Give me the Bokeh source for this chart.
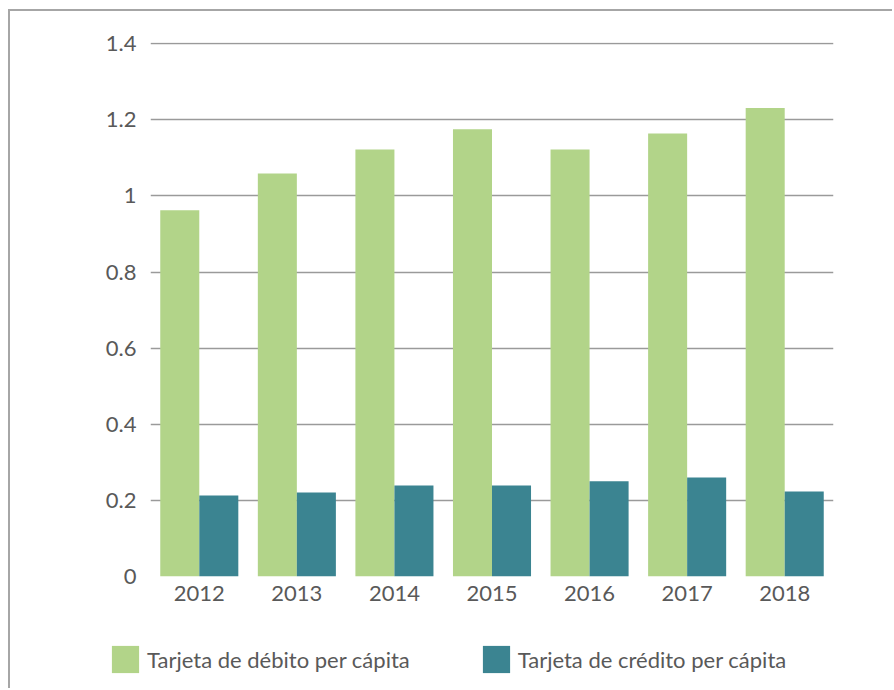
from bokeh.plotting import figure
from bokeh.models import ColumnDataSource, FactorRange, Range1d, Legend, LegendItem, FixedTicker
from bokeh.transform import dodge
from bokeh.embed import file_html
from bokeh.resources import INLINE

years = ["2012", "2013", "2014", "2015", "2016", "2017", "2018"]
debito = [0.962, 1.059, 1.122, 1.175, 1.122, 1.164, 1.231]
credito = [0.213, 0.221, 0.239, 0.239, 0.250, 0.260, 0.223]
y_ticks = [0, 0.2, 0.4, 0.6, 0.8, 1.0, 1.2, 1.4]
y_labels = {0: "0", 0.2: "0.2", 0.4: "0.4", 0.6: "0.6", 0.8: "0.8", 1.0: "1", 1.2: "1.2", 1.4: "1.4"}
legend_labels = ["Tarjeta de débito per cápita", "Tarjeta de crédito per cápita"]

GREEN = "#b2d489"
TEAL = "#3b8491"
TEXT = "#595959"
BORDER = "2px solid #a6a6a6"
FONT = "Lato"
FS = "22px"

src = ColumnDataSource(dict(years=years, debito=debito, credito=credito))

p = figure(width=884, height=609, x_range=FactorRange(*years), y_range=Range1d(0, 1.403),
           output_backend="svg", toolbar_location=None,
           min_border_left=140, min_border_right=61, min_border_top=31, min_border_bottom=44,
           styles={"margin-left": "8px", "margin-top": "9px",
                   "border-left": BORDER, "border-top": BORDER})
p.outline_line_color = None

p.vbar(x=dodge("years", -0.2, range=p.x_range), top="debito", width=0.4, source=src,
       fill_color=GREEN, line_color=None)
p.vbar(x=dodge("years", 0.2, range=p.x_range), top="credito", width=0.4, source=src,
       fill_color=TEAL, line_color=None)

p.xgrid.grid_line_color = None
p.ygrid.grid_line_color = "#9a9a9a"
p.ygrid.grid_line_width = 1.5
p.yaxis.ticker = FixedTicker(ticks=y_ticks)
p.yaxis.major_label_overrides = y_labels

for ax in (p.xaxis[0], p.yaxis[0]):
    ax.axis_line_color = None
    ax.major_tick_line_color = None
    ax.minor_tick_line_color = None
    ax.major_tick_out = 0
    ax.major_tick_in = 0
    ax.major_label_text_font = FONT
    ax.major_label_text_font_size = FS
    ax.major_label_text_color = TEXT
p.yaxis.major_label_standoff = 14
p.xaxis.major_label_standoff = 9

# legend strip (its bars sit outside its visible y range; only the legend shows)
lg = figure(width=884, height=70, x_range=FactorRange(*years), y_range=Range1d(10, 11),
            output_backend="svg", toolbar_location=None,
            min_border_left=0, min_border_right=0, min_border_top=0, min_border_bottom=0,
            styles={"margin-left": "8px", "border-left": BORDER})
lg.axis.visible = False
lg.grid.visible = False
lg.outline_line_color = None
g1 = lg.vbar(x="years", top="debito", width=0.4, source=src, fill_color=GREEN, line_color=None)
g2 = lg.vbar(x="years", top="credito", width=0.4, source=src, fill_color=TEAL, line_color=None)
legend = Legend(items=[LegendItem(label=legend_labels[0], renderers=[g1], index=0),
                       LegendItem(label=legend_labels[1], renderers=[g2], index=0)],
                orientation="horizontal", location=(98, 12),
                glyph_width=34, glyph_height=34, label_standoff=5, spacing=69,
                padding=0, margin=0, border_line_color=None, background_fill_alpha=0,
                label_text_font=FONT, label_text_font_size=FS, label_text_color=TEXT)
lg.add_layout(legend, "center")

open("out.html", "w").write(file_html([p, lg], INLINE))
